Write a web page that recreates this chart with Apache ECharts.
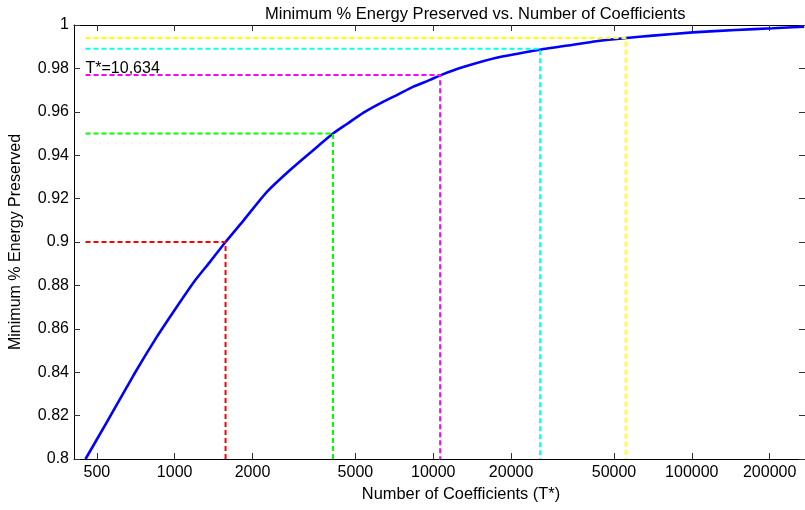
<!DOCTYPE html>
<html>
<head>
<meta charset="utf-8">
<script src="https://cdn.jsdelivr.net/npm/echarts@6/dist/echarts.min.js"></script>
<style>html,body{margin:0;padding:0;background:#fff}#c{width:805px;height:510px}</style>
</head>
<body>
<div id="c"></div>
<script>
const chartTitle = 'Minimum % Energy Preserved vs. Number of Coefficients';
const xName = 'Number of Coefficients (T*)';
const yName = 'Minimum % Energy Preserved';
const xTicks = [500, 1000, 2000, 5000, 10000, 20000, 50000, 100000, 200000];
const coeffs = [452, 548, 694, 854, 1009, 1187, 1377, 1573, 1851, 2278, 2844, 3552, 4095, 4637, 5375, 6232, 7229, 8380, 9719, 10634, 13066, 17573, 25823, 34700, 42730, 55780, 70650, 100800, 148200, 205100, 271900];
const energy = [0.8000, 0.8172, 0.8387, 0.8564, 0.8694, 0.8816, 0.8912, 0.9000, 0.9101, 0.9232, 0.9340, 0.9438, 0.9500, 0.9544, 0.9596, 0.9639, 0.9677, 0.9716, 0.9747, 0.9768, 0.9806, 0.9849, 0.9886, 0.9909, 0.9925, 0.9940, 0.9951, 0.9966, 0.9977, 0.9985, 0.9992];
const thrX = [1573, 4095, 10634, 25900, 55500];
const thrY = [0.9, 0.95, 0.977, 0.989, 0.994];
const thrColors = ['#ff0000', '#00ff00', '#ff00ff', '#00ffff', '#ffff00'];
const annotText = 'T*=10,634';
const annotY = 0.98;

const FONT = 'Liberation Sans';
const xMin = 408, xMax = 274000, yMin = 0.8, yMax = 1;
const x0 = coeffs[0];

const series = [{
  type: 'line',
  data: coeffs.map((c, i) => [c, energy[i]]),
  showSymbol: false,
  smooth: 0.2,
  lineStyle: {color: '#0000ff', width: 2.6},
  z: 3,
  animation: false
}];
thrX.forEach((tx, i) => {
  series.push({
    type: 'line',
    data: [[x0, thrY[i]], [tx, thrY[i]], [tx, yMin]],
    showSymbol: false,
    lineStyle: {color: thrColors[i], width: 2, type: [5, 3]},
    z: 4,
    animation: false
  });
});
series.push({
  type: 'scatter',
  data: [[x0, annotY]],
  symbolSize: 0,
  itemStyle: {opacity: 1},
  label: {show: true, position: 'right', distance: 0, formatter: annotText, color: '#000', fontFamily: FONT, fontSize: 16},
  silent: true,
  animation: false
});

const chart = echarts.init(document.getElementById('c'), null, {renderer: 'canvas'});
chart.setOption({
  backgroundColor: '#fff',
  animation: false,
  title: {text: chartTitle, left: 260, top: 1, textStyle: {fontFamily: FONT, fontSize: 16.5, fontWeight: 'normal', color: '#000'}},
  grid: {left: 73, right: -1, top: 25, bottom: 51},
  xAxis: [{
    type: 'log', min: xMin, max: xMax, position: 'bottom',
    name: xName, nameLocation: 'middle', nameGap: 27,
    nameTextStyle: {fontFamily: FONT, fontSize: 16.4, color: '#000', padding: [0, 0, 0, 43]},
    axisLine: {show: true, lineStyle: {color: '#000', width: 1}},
    axisTick: {show: true, inside: true, length: 6, customValues: xTicks, lineStyle: {color: '#333'}},
    axisLabel: {customValues: xTicks, margin: 6, fontFamily: FONT, fontSize: 16, color: '#000', formatter: v => String(Math.round(v))},
    splitLine: {show: false}, minorTick: {show: false}
  }, {
    type: 'log', min: xMin, max: xMax, position: 'top',
    axisLine: {show: true, lineStyle: {color: '#000', width: 1}},
    axisTick: {show: true, inside: true, length: 6, customValues: xTicks, lineStyle: {color: '#333'}},
    axisLabel: {show: false, customValues: xTicks},
    splitLine: {show: false}
  }],
  yAxis: [{
    type: 'value', min: yMin, max: yMax, interval: 0.02, position: 'left',
    name: yName, nameLocation: 'middle', nameGap: 50,
    nameTextStyle: {fontFamily: FONT, fontSize: 16, color: '#000'},
    axisLine: {show: true, lineStyle: {color: '#000', width: 1}},
    axisTick: {show: true, inside: true, length: 6, lineStyle: {color: '#333'}},
    axisLabel: {margin: 5, fontFamily: FONT, fontSize: 16, color: '#000'},
    splitLine: {show: false}
  }, {
    type: 'value', min: yMin, max: yMax, interval: 0.02, position: 'right',
    axisLine: {show: true, lineStyle: {color: '#000', width: 1}},
    axisTick: {show: true, inside: true, length: 6, lineStyle: {color: '#333'}},
    axisLabel: {show: false},
    splitLine: {show: false}
  }],
  series: series
});
</script>
</body>
</html>
